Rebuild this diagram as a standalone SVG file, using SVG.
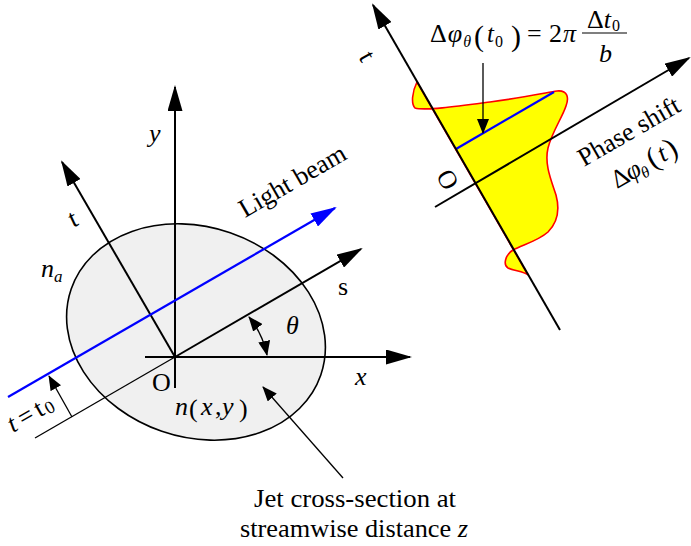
<svg xmlns="http://www.w3.org/2000/svg" width="691" height="546" viewBox="0 0 691 546">
<style>
text{font-family:"Liberation Serif","Times New Roman",serif;fill:#000;font-size:26px}
.i{font-style:italic}
.ax{stroke:#000;stroke-width:2;fill:none}
.thin{stroke:#000;stroke-width:1.3;fill:none}
.blue{stroke:#0000ff;stroke-width:2.2;fill:none}
</style>
<defs>
<marker id="ah" viewBox="0 0 26 15" refX="24" refY="7.5" markerWidth="26" markerHeight="15" markerUnits="userSpaceOnUse" orient="auto"><path d="M0,0 L26,7.5 L0,15 Z" fill="#000"/></marker>
<marker id="ahb" viewBox="0 0 26 15" refX="24" refY="7.5" markerWidth="26" markerHeight="15" markerUnits="userSpaceOnUse" orient="auto"><path d="M0,0 L26,7.5 L0,15 Z" fill="#0000ff"/></marker>
<marker id="as" viewBox="0 0 15 12" refX="14" refY="6" markerWidth="15" markerHeight="12" markerUnits="userSpaceOnUse" orient="auto-start-reverse"><path d="M0,0 L15,6 L0,12 Z" fill="#000"/></marker>
</defs>

<g id="jet-section">
<ellipse cx="196" cy="332" rx="132" ry="105" transform="rotate(19 196 332)" fill="#f0f0f0" stroke="#000" stroke-width="1.6"/>
</g>

<g id="connectors">
<line class="ax" x1="145" y1="357" x2="410" y2="357" marker-end="url(#ah)"/>
<line class="ax" x1="175" y1="388" x2="175" y2="87" marker-end="url(#ah)"/>
<line class="ax" x1="175" y1="357" x2="62" y2="162" marker-end="url(#ah)"/>
<line class="ax" x1="175" y1="357" x2="361" y2="249" marker-end="url(#ah)"/>
<line class="thin" x1="35" y1="438" x2="175" y2="357"/>
<line class="blue" x1="8" y1="397" x2="335" y2="208" marker-end="url(#ahb)"/>
<line class="thin" x1="72" y1="417" x2="49" y2="376" marker-end="url(#as)"/>
<path class="thin" d="M249,317 A88,88 0 0 1 267,355" marker-start="url(#as)" marker-end="url(#as)"/>
<line class="thin" x1="343" y1="478" x2="263" y2="387" marker-end="url(#as)"/>

<path d="M417,82 C412,92 411,104 415,108 C425,111 460,106 490,102 C520,98 545,93 557,91 C568,90 569,98 566,106 C562,118 552,132 548,148 C544,165 552,182 556,195 C560,210 558,222 548,232 C538,241 522,245 513,250 C505,255 503,265 508,268 C514,271 524,271 528,275 Z" fill="#ffff00" stroke="#ff0000" stroke-width="1.6"/>
<line class="blue" x1="456" y1="149" x2="554" y2="92" stroke-width="2"/>
<line class="ax" x1="560" y1="330" x2="373" y2="5" marker-end="url(#ah)"/>
<line class="ax" x1="435" y1="207" x2="689" y2="58" marker-end="url(#ah)"/>
<line class="thin" x1="483" y1="63" x2="483" y2="133" marker-end="url(#as)"/>
</g>

<g id="labels">
<text class="i" x="149" y="142" font-size="28">y</text>
<text class="i" x="355" y="385" font-size="28">x</text>
<text x="338" y="295">s</text>
<text class="i" x="286" y="334" font-size="27">θ</text>
<text x="152" y="391" font-size="25">O</text>
<text transform="translate(73,219) rotate(-25)" x="0" y="8" text-anchor="middle">t</text>
<text class="i" x="41" y="277" font-size="28">n<tspan font-size="17" dy="5">a</tspan></text>
<text transform="translate(245,218) rotate(-30)">Light beam</text>
<g transform="translate(13,433) rotate(-30)">
<text font-size="23"><tspan class="i" x="0">t</tspan><tspan x="12">=</tspan><tspan x="31">t</tspan><tspan x="40" dy="2" font-size="18">0</tspan></text>
</g>
<text class="i" x="175" y="415" font-size="28">n</text>
<text x="189" y="417" font-size="32">(</text>
<text class="i" x="201" y="415" font-size="28">x</text>
<text x="215" y="415" font-size="28">,</text>
<text class="i" x="222" y="415" font-size="28">y</text>
<text x="239" y="417" font-size="32">)</text>
<text x="355" y="507" text-anchor="middle" font-size="27" textLength="202" lengthAdjust="spacingAndGlyphs">Jet cross-section at</text>
<text x="354" y="537" text-anchor="middle" font-size="27" textLength="228" lengthAdjust="spacingAndGlyphs">streamwise distance <tspan class="i">z</tspan></text>

<text transform="translate(366,57) rotate(60)" x="0" y="7" text-anchor="middle" font-size="24">t</text>
<text transform="translate(447,180) rotate(60)" x="0" y="8" text-anchor="middle" font-size="24">O</text>
<g id="formula">
<text x="430" y="42" font-size="25">Δ<tspan class="i" dx="1">φ</tspan><tspan class="i" font-size="16" dy="5" dx="1">θ</tspan><tspan font-size="30" dy="-1" x="474">(</tspan><tspan class="i" font-size="25" dy="-4" x="487">t</tspan><tspan font-size="16" dy="5" dx="1">0</tspan><tspan font-size="30" dy="-1" x="511">)</tspan><tspan dy="-4" x="527">=</tspan><tspan x="549">2</tspan><tspan class="i" x="563">π</tspan></text>
<line x1="582" y1="33" x2="627" y2="33" stroke="#000" stroke-width="1.2"/>
<text x="587" y="28" font-size="24">Δ<tspan class="i">t</tspan><tspan font-size="16" dy="3" dx="1">0</tspan></text>
<text class="i" x="599" y="62" font-size="25">b</text>
</g>
<text transform="translate(584,167) rotate(-30)">Phase shift</text>
<g transform="translate(617,189) rotate(-30)">
<text font-size="25"><tspan x="0">Δ</tspan><tspan class="i" x="16">φ</tspan><tspan class="i" x="29" dy="5" font-size="16">θ</tspan><tspan x="41" dy="-4" font-size="30">(</tspan><tspan class="i" x="53" dy="-1">t</tspan><tspan x="62" dy="1" font-size="30">)</tspan></text>
</g>
</g>
</svg>
